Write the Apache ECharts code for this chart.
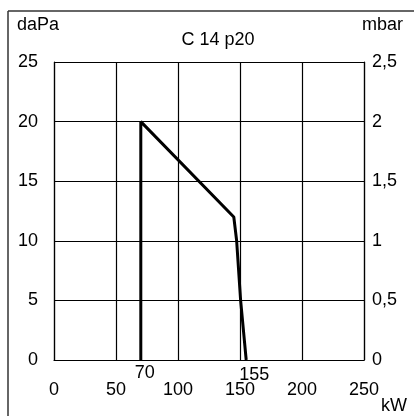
<!DOCTYPE html>
<html>
<head>
<meta charset="utf-8">
<script src="https://cdn.jsdelivr.net/npm/echarts@6/dist/echarts.min.js"></script>
<style>
html,body{margin:0;padding:0;background:#fff;}
#chart{width:414px;height:416px;}
</style>
</head>
<body>
<div id="chart"></div>
<script>
var titleText = 'C 14 p20';
var leftUnit = 'daPa';
var rightUnit = 'mbar';
var xUnit = 'kW';
var kw = [70, 70, 145, 147.3, 150.5, 155];
var daPa = [0, 20, 12, 10, 5, 0];
var markKw = [70, 155];
var markLabels = ['70', '155'];

var FONT = 'Liberation Sans, Arial, sans-serif';
var chart = echarts.init(document.getElementById('chart'), null, {renderer: 'canvas'});

var lineData = kw.map(function (x, i) { return [x, daPa[i]]; });
var markData = markKw.map(function (x, i) {
  return {
    value: [x, 0],
    label: {
      show: true,
      color: '#000',
      fontSize: 18,
      fontFamily: FONT,
      formatter: markLabels[i],
      position: 'bottom',
      offset: i === 0 ? [4, 2] : [8, 4]
    }
  };
});

chart.setOption({
  animation: false,
  backgroundColor: '#fff',
  textStyle: {fontFamily: FONT},
  title: {
    text: titleText,
    left: 213,
    textAlign: 'center',
    top: 26,
    textStyle: {fontSize: 18, fontWeight: 'normal', color: '#000', fontFamily: FONT}
  },
  grid: {left: 54, right: 50, top: 62, bottom: 56, containLabel: false},
  xAxis: {
    type: 'value',
    min: 0, max: 250, interval: 50,
    axisLine: {show: true, lineStyle: {color: '#000', width: 1.2}},
    axisTick: {show: false},
    splitLine: {show: true, lineStyle: {color: '#000', width: 1.2}},
    axisLabel: {fontSize: 18, color: '#000', margin: 21, fontFamily: FONT}
  },
  yAxis: [{
    type: 'value',
    min: 0, max: 25, interval: 5,
    axisLine: {show: true, lineStyle: {color: '#000', width: 1.2}},
    axisTick: {show: false},
    splitLine: {show: true, lineStyle: {color: '#000', width: 1.2}},
    axisLabel: {fontSize: 18, color: '#000', margin: 16, fontFamily: FONT}
  }, {
    type: 'value',
    position: 'right',
    min: 0, max: 2.5, interval: 0.5,
    axisLine: {show: true, lineStyle: {color: '#000', width: 1.2}},
    axisTick: {show: false},
    splitLine: {show: false},
    axisLabel: {
      fontSize: 18, color: '#000', margin: 8, fontFamily: FONT,
      formatter: function (v) { return String(v).replace('.', ','); }
    }
  }],
  graphic: [
    {type: 'line', shape: {x1: 8, y1: 11, x2: 414, y2: 11}, style: {stroke: '#333', lineWidth: 1.5}},
    {type: 'line', shape: {x1: 8, y1: 11, x2: 8, y2: 416}, style: {stroke: '#333', lineWidth: 1.5}},
    {type: 'text', left: 17, top: 16, style: {text: leftUnit, font: '18px ' + FONT, fill: '#000'}},
    {type: 'text', left: 362, top: 16, style: {text: rightUnit, font: '18px ' + FONT, fill: '#000'}},
    {type: 'text', left: 381, top: 397, style: {text: xUnit, font: '18px ' + FONT, fill: '#000'}}
  ],
  series: [{
    type: 'line',
    data: lineData,
    yAxisIndex: 0,
    symbol: 'none',
    lineStyle: {color: '#000', width: 3},
    z: 5
  }, {
    type: 'scatter',
    data: markData,
    yAxisIndex: 0,
    symbolSize: 0,
    itemStyle: {color: '#000', opacity: 1},
    label: {fontSize: 18, color: '#000', fontFamily: FONT, distance: 2},
    z: 6
  }]
});
</script>
</body>
</html>
